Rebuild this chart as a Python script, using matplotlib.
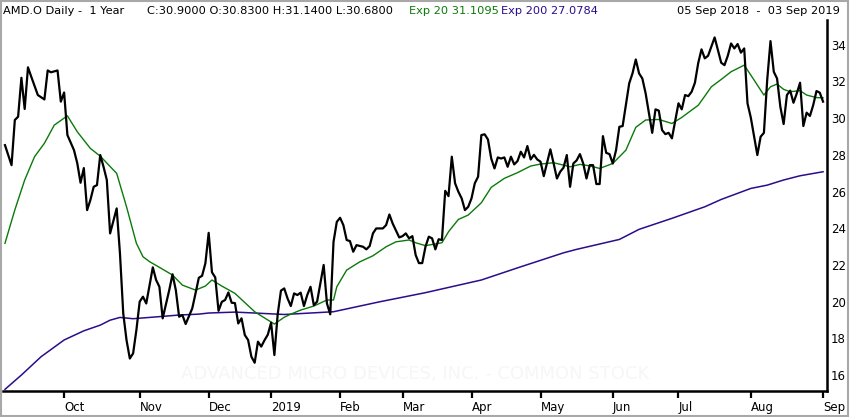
import numpy as np
import pandas as pd
import matplotlib
matplotlib.use("Agg")
import matplotlib.pyplot as plt
from matplotlib.patches import Rectangle

# trading calendar 05 Sep 2018 .. 03 Sep 2019
holidays = ["2018-11-22", "2018-12-05", "2018-12-25", "2019-01-01", "2019-01-21",
            "2019-02-18", "2019-04-19", "2019-05-27", "2019-07-04", "2019-09-02"]
days = pd.bdate_range("2018-09-05", "2019-09-03", freq="C", holidays=holidays)

month_labels = ["Oct", "Nov", "Dec", "2019", "Feb", "Mar", "Apr", "May", "Jun", "Jul", "Aug", "Sep"]
price_ticks = [16, 18, 20, 22, 24, 26, 28, 30, 32, 34]

# closes, keyed by trading-day number
close_idx = [0, 2, 3, 4, 5, 6, 7, 8, 10, 12, 13, 14, 16, 17, 18, 19, 21, 22, 23, 24,
             25, 26, 27, 28, 29, 30, 31, 32, 34, 35, 36, 37, 38, 39, 40, 41, 42, 43, 45, 46,
             47, 48, 50, 51, 52, 53, 54, 55, 57, 58, 59, 60, 61, 62, 63, 64, 65, 66, 67, 68,
             69, 70, 71, 72, 73, 74, 75, 76, 77, 78, 79, 80, 81, 82, 83, 84, 85, 86, 87, 88,
             89, 90, 91, 92, 93, 94, 95, 96, 97, 98, 99, 100, 101, 102, 103, 104, 105, 106, 107, 109,
             110, 111, 112, 113, 115, 116, 117, 118, 120, 121, 122, 123, 124, 125, 126, 127, 128, 129, 130, 131,
             132, 133, 134, 135, 136, 137, 138, 139, 140, 141, 142, 143, 144, 145, 146, 147, 148, 149, 150, 151,
             152, 153, 154, 155, 156, 157, 158, 159, 160, 161, 162, 163, 164, 166, 167, 168, 169, 170, 171, 172,
             173, 174, 175, 176, 177, 178, 179, 180, 181, 182, 183, 184, 185, 186, 187, 188, 190, 191, 192, 193,
             194, 195, 196, 197, 198, 199, 200, 201, 202, 203, 204, 205, 206, 207, 208, 209, 210, 211, 212, 213,
             214, 216, 217, 218, 219, 220, 221, 222, 223, 224, 225, 226, 227, 228, 229, 230, 231, 232, 233, 234,
             235, 236, 237, 238, 239, 240, 241, 242, 243, 244, 245, 246, 247, 248, 249]
close_val = [28.53, 27.44, 29.90, 30.08, 32.20, 30.50, 32.77, 32.26, 31.26, 31.02, 32.60, 32.50, 32.60, 30.90, 31.40, 29.08, 28.26, 27.55, 26.48, 27.28,
             24.99, 25.54, 26.26, 26.35, 27.99, 27.35, 26.63, 23.72, 25.08, 22.63, 19.36, 17.90, 16.90, 17.18, 18.45, 20.00, 20.27, 19.90, 21.87, 21.18,
             20.81, 19.09, 20.63, 21.49, 20.63, 19.18, 19.27, 18.78, 19.63, 20.45, 21.30, 21.41, 22.09, 23.75, 21.60, 21.32, 19.50, 19.99, 20.09, 20.50,
             19.94, 19.92, 18.81, 19.09, 18.18, 17.91, 17.00, 16.67, 17.82, 17.55, 17.90, 18.20, 18.85, 17.09, 19.30, 20.60, 20.72, 20.18, 19.76, 20.45,
             20.36, 20.49, 19.76, 20.36, 20.81, 19.81, 20.00, 21.00, 22.00, 19.90, 19.31, 23.26, 24.35, 24.57, 24.17, 23.36, 23.30, 22.72, 23.08, 22.99,
             22.85, 23.03, 23.72, 23.99, 23.99, 24.17, 24.75, 24.26, 23.50, 23.57, 23.72, 23.45, 23.57, 22.54, 22.10, 22.10, 23.00, 23.54, 23.45, 22.85,
             23.40, 23.36, 26.04, 25.75, 27.90, 26.45, 25.99, 25.63, 24.99, 25.17, 25.63, 26.45, 26.81, 29.08, 29.12, 28.84, 27.80, 27.26, 27.86, 27.80,
             27.86, 27.35, 27.90, 27.48, 27.66, 28.17, 27.86, 28.48, 27.75, 28.00, 27.75, 27.63, 26.84, 28.30, 27.53, 26.71, 27.08, 27.30, 27.99, 26.26,
             27.53, 27.70, 28.04, 27.53, 26.71, 27.44, 27.44, 26.41, 26.41, 29.02, 28.11, 28.04, 27.53, 28.26, 29.53, 29.57, 31.90, 32.44, 33.20, 32.44,
             32.16, 31.35, 30.26, 29.20, 30.48, 30.41, 29.35, 29.13, 29.20, 28.90, 29.86, 30.81, 30.48, 31.26, 31.20, 31.44, 31.93, 33.00, 33.75, 33.26,
             33.40, 34.40, 33.71, 33.02, 32.89, 33.40, 34.07, 33.80, 34.04, 33.57, 33.80, 30.81, 30.04, 29.00, 27.99, 28.99, 29.20, 32.08, 34.20, 32.53,
             32.16, 30.62, 29.68, 31.26, 31.50, 30.84, 31.35, 31.93, 29.57, 30.30, 30.12, 30.71, 31.48, 31.39, 30.90]

ema20_idx = [0, 3, 6, 9, 12, 15, 19, 22, 26, 29, 34, 37, 40, 42, 44, 47, 51, 54, 58, 61,
             63, 66, 70, 76, 80, 82, 85, 87, 90, 94, 98, 100, 101, 104, 108, 112, 116, 119, 123, 125,
             128, 133, 135, 138, 141, 145, 148, 152, 156, 160, 163, 167, 170, 172, 175, 178, 181, 185, 189, 192,
             195, 199, 203, 206, 209, 211, 213, 215, 218, 221, 225, 228, 230, 231, 233, 235, 237, 239, 242, 244,
             247, 249]
ema20_val = [23.18, 25.00, 26.63, 27.90, 28.63, 29.62, 30.13, 29.26, 28.35, 27.93, 26.99, 25.17, 23.18, 22.45, 22.18, 21.87, 21.45, 20.90, 20.63, 20.85,
             21.18, 20.85, 20.45, 19.45, 19.00, 18.78, 19.15, 19.32, 19.54, 19.76, 20.09, 20.09, 20.81, 21.72, 22.17, 22.50, 22.99, 23.26, 23.36, 23.21,
             23.05, 23.21, 23.81, 24.48, 24.72, 25.39, 26.23, 26.72, 27.03, 27.39, 27.50, 27.57, 27.44, 27.35, 27.48, 27.40, 27.26, 27.53, 28.26, 29.50,
             29.90, 29.93, 29.71, 30.04, 30.44, 30.70, 31.20, 31.71, 32.11, 32.53, 32.89, 32.08, 31.53, 31.26, 31.71, 31.86, 31.57, 31.44, 31.50, 31.26,
             31.12, 31.11]

ema200_idx = [0, 5, 11, 18, 24, 29, 32, 35, 39, 44, 53, 59, 62, 70, 76, 85, 100, 114, 128, 145,
              157, 170, 174, 187, 193, 203, 213, 218, 227, 232, 237, 242, 249]
ema200_val = [15.22, 16.00, 17.00, 17.91, 18.41, 18.72, 18.99, 19.14, 19.07, 19.14, 19.27, 19.32, 19.38, 19.43, 19.38, 19.30, 19.45, 19.99, 20.49, 21.18,
              21.90, 22.66, 22.85, 23.39, 23.94, 24.54, 25.17, 25.57, 26.17, 26.35, 26.63, 26.86, 27.08]

GREEN = "#0a7a0a"
PURPLE = "#2b0c8c"

month_pos = []
for m in pd.period_range("2018-10", "2019-09", freq="M"):
    month_pos.append(int(np.argmax(days.to_period("M") == m)))

fig = plt.figure(figsize=(8.5, 4.17), dpi=100)
ax = fig.add_axes([3 / 850, 1 - 391 / 417, 824 / 850, 371 / 417])

ax.text(0.5, 0.045, "ADVANCED MICRO DEVICES, INC. - COMMON STOCK", transform=ax.transAxes,
        ha="center", va="center", fontsize=13, color="#f6f6f6", zorder=0)

ax.plot(ema200_idx, ema200_val, color=PURPLE, lw=1.1)
ax.plot(ema20_idx, ema20_val, color=GREEN, lw=1.0)
ax.plot(close_idx, close_val, color="black", lw=1.6, solid_joinstyle="round")

ax.set_xlim(-0.6, 250.2)
ax.set_ylim(15.13, 35.35)

ax.yaxis.tick_right()
ax.set_yticks(price_ticks)
ax.set_yticklabels([str(t) for t in price_ticks])
ax.tick_params(axis="y", length=0, pad=3, labelsize=8.5)
ax.set_xticks(month_pos)
ax.set_xticklabels(month_labels, ha="left")
ax.tick_params(axis="x", length=5, width=1.6, pad=2, labelsize=8.5)

for side in ["left", "top"]:
    ax.spines[side].set_visible(False)
for side in ["right", "bottom"]:
    ax.spines[side].set_linewidth(1.8)

# header
hy = 1 - 11 / 417
fs = 8.2
fig.text(3 / 850, hy, "AMD.O Daily -  1 Year", fontsize=fs, va="center")
fig.text(147 / 850, hy, "C:30.9000 O:30.8300 H:31.1400 L:30.6800", fontsize=fs, va="center")
fig.text(409 / 850, hy, "Exp 20 31.1095", fontsize=fs, va="center", color=GREEN)
fig.text(501 / 850, hy, "Exp 200 27.0784", fontsize=fs, va="center", color=PURPLE)
fig.text(840 / 850, hy, "05 Sep 2018  -  03 Sep 2019", fontsize=fs, va="center", ha="right")

fig.patches.append(Rectangle((0.001, 0.002), 0.997, 0.996, transform=fig.transFigure,
                             fill=False, edgecolor="#a8a8a8", lw=1.5))

fig.savefig("out.png", dpi=100)
